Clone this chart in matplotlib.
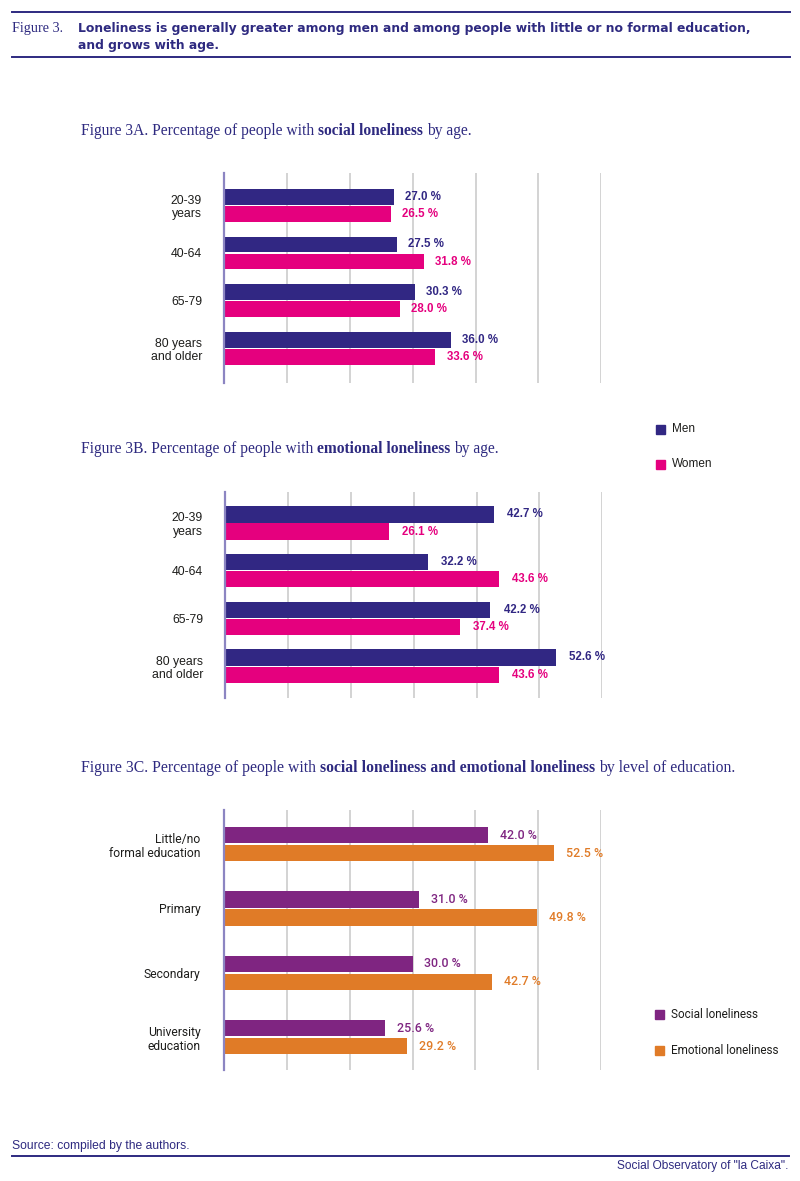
import numpy as np
import matplotlib
matplotlib.use('Agg')
import matplotlib.pyplot as plt
from matplotlib.patches import Rectangle
from matplotlib.lines import Line2D

# ---------------- data ----------------
age_groups = ['20-39\nyears', '40-64', '65-79', '80 years\nand older']
social_men = [27.0, 27.5, 30.3, 36.0]
social_women = [26.5, 31.8, 28.0, 33.6]
emotional_men = [42.7, 32.2, 42.2, 52.6]
emotional_women = [26.1, 43.6, 37.4, 43.6]
edu_levels = ['Little/no\nformal education', 'Primary', 'Secondary', 'University\neducation']
edu_social = [42.0, 31.0, 30.0, 25.6]
edu_emotional = [52.5, 49.8, 42.7, 29.2]
x_ticks = [0, 10, 20, 30, 40, 50, 60]
sex_legend = ['Men', 'Women']
type_legend = ['Social loneliness', 'Emotional loneliness']

# ---------------- style ----------------
W, H = 800, 1181
NAVY = '#2e2a80'
MEN = '#312783'
WOMEN = '#e5007e'
SOC = '#7f2581'
EMO = '#e07b27'
GRID = '#c8c8c8'
SPINE = '#8c85c2'
TXT = '#1d1d1b'
SANS = ['Liberation Sans', 'DejaVu Sans']
HEAD = ['DejaVu Sans']
SERIF = ['Liberation Serif', 'DejaVu Serif']
ROBO = ['Roboto', 'DejaVu Sans']

fig = plt.figure(figsize=(8, 11.81), dpi=100)
bg = fig.add_axes([0, 0, 1, 1])
bg.axis('off')
bg.set_xlim(0, 1)
bg.set_ylim(0, 1)


def fx(x):
    return x / W


def fy(y):
    return 1 - y / H


def hline(y, x0=12, x1=790, lw=1.4):
    fig.add_artist(Line2D([fx(x0), fx(x1)], [fy(y), fy(y)], color=NAVY, lw=lw,
                          transform=fig.transFigure))


def rich(x, y, parts, size, family, color=NAVY, gap=2.8):
    prev = None
    for txt, bold in parts:
        kw = dict(fontsize=size, family=family, color=color,
                  fontweight='bold' if bold else 'normal', va='baseline', ha='left')
        if prev is None:
            prev = bg.annotate(txt, xy=(fx(x), fy(y)), xycoords='figure fraction', **kw)
        else:
            prev = bg.annotate(txt, xy=(1, fy(y)), xycoords=(prev, 'figure fraction'),
                               xytext=(gap, 0), textcoords='offset points', **kw)


def chart(box, cats, a, b, ca, cb, off, h, ylim, tick_pad, val_pad, family, fs_tick, fs_val, wval):
    left, right, top, bottom = box
    ax = fig.add_axes([fx(left), fy(bottom), (right - left) / W, (bottom - top) / H])
    ys = np.arange(len(cats))
    ax.barh(ys - off, a, height=h, color=ca, zorder=3)
    ax.barh(ys + off, b, height=h, color=cb, zorder=3)
    ax.set_xlim(x_ticks[0], x_ticks[-1])
    ax.set_ylim(*ylim)
    ax.set_xticks(x_ticks)
    ax.xaxis.grid(True, color=GRID, lw=1.1, zorder=0)
    ax.set_axisbelow(True)
    ax.tick_params(axis='x', length=0, labelbottom=False)
    ax.set_yticks(ys)
    ax.set_yticklabels(cats, family=family, fontsize=fs_tick, color=TXT, linespacing=1.15)
    ax.tick_params(axis='y', length=0, pad=tick_pad)
    for s in ['top', 'right', 'bottom']:
        ax.spines[s].set_visible(False)
    ax.spines['left'].set_color(SPINE)
    ax.spines['left'].set_linewidth(1.6)
    ax.spines['left'].set_zorder(4)
    ax.patch.set_alpha(0)
    for vals, sign, col in ((a, -1, ca), (b, 1, cb)):
        for y, v in zip(ys, vals):
            ax.annotate(f'{v:.1f} %', (v, y + sign * off), xytext=(val_pad, 0),
                        textcoords='offset points', va='center', ha='left', color=col,
                        fontweight=wval, fontsize=fs_val, family=family)
    return ax


# ---------------- header ----------------
hline(11.5)
bg.text(fx(12), fy(28.5), 'Figure 3.', family=SERIF, fontsize=10.2, color=NAVY, va='center', ha='left')
bg.text(fx(78), fy(37), 'Loneliness is generally greater among men and among people with little or no formal education,\nand grows with age.',
        family=HEAD, fontsize=8.9, fontweight='bold', color=NAVY, va='center', ha='left', linespacing=1.4)
hline(57)

# ---------------- 3A ----------------
rich(81, 135, [('Figure 3A. Percentage of people with', False), ('social loneliness', True), ('by age.', False)],
     11.2, SERIF)
chart((224.3, 601.3, 173, 383), age_groups, social_men, social_women, MEN, WOMEN,
      0.18, 0.33, (3.73, -0.68), 16, 8, SANS, 8.8, 8.3, 'bold')

# legend (sexes)
for i, (lab, col) in enumerate(zip(sex_legend, [MEN, WOMEN])):
    yc = 429.5 + i * 34.5
    fig.add_artist(Rectangle((fx(656), fy(yc + 4.5)), 9 / W, 9 / H, color=col, transform=fig.transFigure))
    bg.text(fx(672), fy(yc), lab, family=SANS, fontsize=8.5, color=TXT, va='center', ha='left')

# ---------------- 3B ----------------
rich(81, 453, [('Figure 3B. Percentage of people with', False), ('emotional loneliness', True), ('by age.', False)],
     11.2, SERIF)
chart((225.3, 602.3, 492, 698), age_groups, emotional_men, emotional_women, MEN, WOMEN,
      0.18, 0.34, (3.67, -0.65), 16, 9.5, SANS, 8.8, 8.3, 'bold')

# ---------------- 3C ----------------
rich(81, 772, [('Figure 3C. Percentage of people with', False),
               ('social loneliness and emotional loneliness', True), ('by level of education.', False)],
     11.3, SERIF)
chart((224, 601, 810, 1070), edu_levels, edu_social, edu_emotional, SOC, EMO,
      0.14, 0.25, (3.51, -0.53), 17, 8.5, ROBO, 8.7, 8.9, 'medium')

for i, (lab, col) in enumerate(zip(type_legend, [SOC, EMO])):
    yc = 1014.5 + i * 35.5
    fig.add_artist(Rectangle((fx(655), fy(yc + 4.5)), 9 / W, 9 / H, color=col, transform=fig.transFigure))
    bg.text(fx(671), fy(yc), lab, family=ROBO, fontsize=8.5, color=TXT, va='center', ha='left')

# ---------------- footer ----------------
bg.text(fx(12), fy(1145.5), 'Source: compiled by the authors.', family=SANS, fontsize=8.7, color=NAVY,
        va='center', ha='left')
hline(1155.5, 12, 789)
bg.text(fx(788), fy(1165.5), 'Social Observatory of "la Caixa".', family=SANS, fontsize=8.6, color=NAVY,
        va='center', ha='right')

fig.savefig('out.png', dpi=100)
